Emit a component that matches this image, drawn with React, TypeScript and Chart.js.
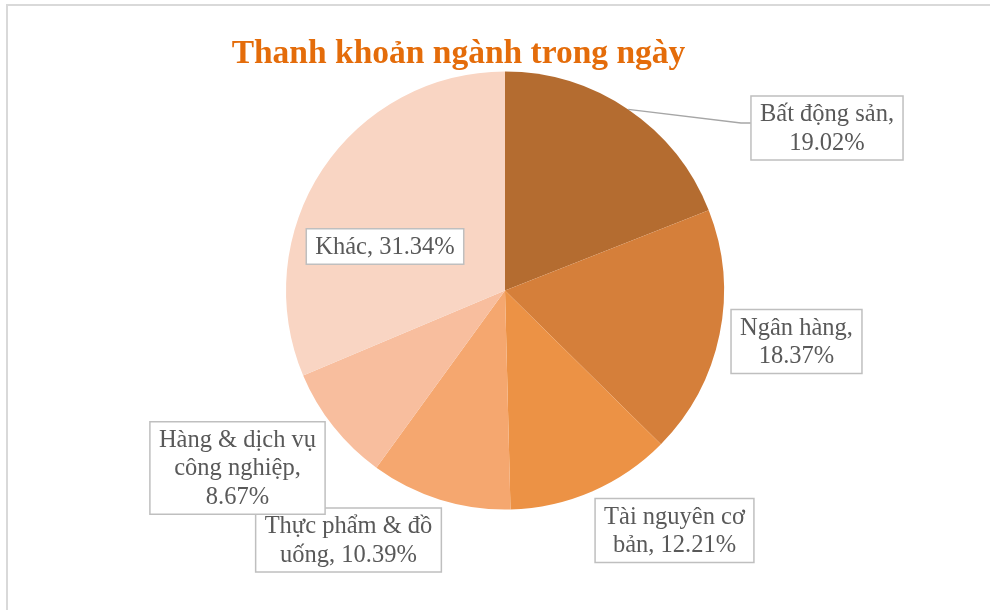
import React, { useEffect, useRef } from "react";
import { Chart, registerables } from "chart.js";

Chart.register(...registerables);

const TITLE = "Thanh khoản ngành trong ngày";
const categories = [
  "Bất động sản",
  "Ngân hàng",
  "Tài nguyên cơ bản",
  "Thực phẩm & đồ uống",
  "Hàng & dịch vụ công nghiệp",
  "Khác",
];
const values = [19.02, 18.37, 12.21, 10.39, 8.67, 31.34];
const colors = ["#B46C30", "#D57F3A", "#EC9245", "#F5A76F", "#F8BE9E", "#F9D5C3"];
// wrapped label lines as in the reference
const labelLines = [
  ["Bất động sản,", "19.02%"],
  ["Ngân hàng,", "18.37%"],
  ["Tài nguyên cơ", "bản, 12.21%"],
  ["Thực phẩm & đồ", "uống, 10.39%"],
  ["Hàng & dịch vụ", "công nghiệp,", "8.67%"],
  ["Khác, 31.34%"],
];
// label box centre offsets, relative to the pie centre (px)
const labelOffsets = [
  [322, -162.5],
  [291.5, 51],
  [169.5, 240],
  [-156.5, 249.5],
  [-267.5, 177.5],
  [-120, -44],
];
const hasLeader = [true, false, false, false, false, false];

const labelFont = '24.5px "Liberation Serif", "DejaVu Serif", serif';
const titleFont = 'bold 33.5px "Liberation Serif", "DejaVu Serif", serif';

const labelsPlugin = {
  id: "boxLabels",
  afterDraw(chart: any) {
    const ctx = chart.ctx;
    const meta = chart.getDatasetMeta(0);
    if (!meta.data.length) return;
    const arc0 = meta.data[0];
    const cx = arc0.x;
    const cy = arc0.y;
    ctx.save();
    // title
    ctx.font = titleFont;
    ctx.fillStyle = "#E46C0A";
    ctx.textAlign = "center";
    ctx.textBaseline = "alphabetic";
    ctx.fillText(TITLE, 458.5, 63);

    ctx.font = labelFont;
    const lineH = 28.5;
    meta.data.forEach((arc: any, i: number) => {
      const lines = labelLines[i];
      const bx = cx + labelOffsets[i][0];
      const by = cy + labelOffsets[i][1];
      let w = 0;
      lines.forEach((l) => (w = Math.max(w, ctx.measureText(l).width)));
      const bw = w + 18;
      const bh = lines.length * lineH + 7;
      const left = bx - bw / 2;
      const top = by - bh / 2;
      if (hasLeader[i]) {
        const mid = (arc.startAngle + arc.endAngle) / 2;
        const px = cx + Math.cos(mid) * arc.outerRadius;
        const py = cy + Math.sin(mid) * arc.outerRadius;
        const ly = by - 5;
        ctx.strokeStyle = "#A6A6A6";
        ctx.lineWidth = 1.3;
        ctx.beginPath();
        ctx.moveTo(px, py);
        ctx.lineTo(left - 10, ly);
        ctx.lineTo(left, ly);
        ctx.stroke();
      }
      ctx.fillStyle = "#FFFFFF";
      ctx.fillRect(left, top, bw, bh);
      ctx.strokeStyle = "#BFBFBF";
      ctx.lineWidth = 1.5;
      ctx.strokeRect(left, top, bw, bh);
      ctx.fillStyle = "#595959";
      ctx.textAlign = "center";
      ctx.textBaseline = "middle";
      lines.forEach((l, k) => {
        ctx.fillText(l, bx, top + 3.5 + lineH * (k + 0.5) + 1);
      });
    });
    ctx.restore();
  },
};

export default function App() {
  const ref = useRef<HTMLCanvasElement | null>(null);
  useEffect(() => {
    if (!ref.current) return;
    const chart = new Chart(ref.current, {
      type: "pie",
      data: {
        labels: categories,
        datasets: [
          {
            data: values,
            backgroundColor: colors,
            borderWidth: 0,
          },
        ],
      },
      options: {
        responsive: false,
        animation: false,
        devicePixelRatio: 1,
        layout: { padding: { left: 286, right: 266, top: 71.5, bottom: 100.5 } },
        plugins: {
          legend: { display: false },
          tooltip: { enabled: false },
          title: { display: false },
        },
      },
      plugins: [labelsPlugin],
    });
    return () => chart.destroy();
  }, []);
  return (
    <div style={{ position: "absolute", left: 0, top: 0, width: 990, height: 610, overflow: "hidden", background: "#fff" }}>
      <div
        style={{
          position: "absolute",
          left: 6,
          top: 4,
          width: 1100,
          height: 800,
          borderLeft: "2px solid #D9D9D9",
          borderTop: "2px solid #D9D9D9",
        }}
      />
      <canvas ref={ref} width={990} height={610} style={{ position: "absolute", left: 0, top: 0 }} />
    </div>
  );
}
